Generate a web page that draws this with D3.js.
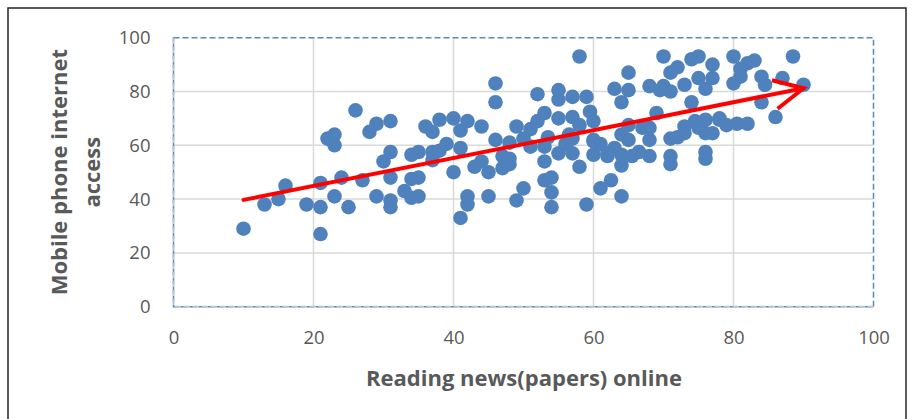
<!DOCTYPE html>
<html>
  <head>
    <meta charset="utf-8" />
    <title>Mobile phone internet access vs reading news online</title>
    <script src="https://d3js.org/d3.v7.min.js"></script>
    <style>
      body {
        margin: 0;
        background: #ffffff;
      }
      text {
        font-family: "Open Sans", "Noto Sans", sans-serif;
      }
    </style>
  </head>
  <body>

    <svg id="scatter">
      <g id="frame"></g>
      <g id="grid"></g>
      <g id="border"></g>
      <g id="shapes"></g>
      <g id="arrow"></g>
      <g id="x"></g>
      <g id="y"></g>
      <g id="titles"></g>
    </svg>

    <script>

      // reading news online (x) and mobile phone internet access (y)
      var readingNews = [
        10, 13, 15, 16, 19, 21, 21, 21, 22, 23, 23, 23, 24, 25, 26, 27, 28, 29, 29, 30,
        31, 31, 31, 31, 31, 33, 34, 35, 34, 35, 34, 35, 36, 37, 37, 37, 38, 38, 39, 40,
        40, 41, 41, 42, 41, 42, 42, 43, 44, 44, 45, 45, 46, 46, 46, 47, 48, 47, 48, 48,
        49, 50, 49, 50, 51, 51, 52, 52, 53, 53, 53, 53.5, 53, 54, 54, 54, 55, 55, 55, 55,
        56, 57, 57, 57, 57, 58, 58, 58, 59, 59.5, 60, 59, 60, 60, 61, 61, 62.5, 62, 63, 64,
        65, 65, 64, 64, 64, 64, 65, 65, 66.5, 67, 68, 68, 68, 69, 70, 70, 71, 71, 71, 71,
        71, 72, 72, 73, 73, 74, 75, 74, 75, 76, 74.5, 75, 76, 76, 76, 77, 77, 77, 78, 79,
        80, 80, 80.5, 81, 82, 83, 81, 84, 84.5, 87, 88.5, 90, 84, 86, 82, 69.5, 68, 63, 65.5, 56.5,
        62, 60, 76, 78, 73
      ];
      var mobileAccess = [
        29, 38, 40, 45, 38, 37, 27, 46, 62.5, 64, 60, 41, 48, 37, 73, 47, 65, 68, 41, 54,
        57.5, 69, 48, 39.5, 37, 43, 56.5, 57.5, 47.5, 48, 40.5, 41, 67, 65, 57.5, 54.5, 69.5, 58, 60.5, 70,
        50, 65.5, 59, 69, 33, 41, 38, 52, 67, 54, 50, 41, 83, 76, 62, 56, 55, 51.5, 53, 61,
        67, 44, 39.5, 62.5, 66, 59.5, 79, 69, 72, 54, 47, 63, 59.5, 48, 42.5, 37, 80.5, 77, 70, 57,
        60.5, 78, 70.5, 62.5, 57, 93, 52, 67.5, 78, 72.5, 69, 38, 61.5, 56.5, 60.5, 44, 47, 57, 81, 76,
        87, 80.5, 64, 56.5, 52.5, 41, 67.5, 62, 57.5, 66.5, 62, 56, 82, 72, 93, 82, 87, 80, 62.5, 56,
        53, 89, 63, 82.5, 67, 92, 93, 76, 85, 81, 69, 66.5, 57.5, 55, 64.5, 90, 85, 64.5, 69.5, 67.5,
        93, 83, 68, 88.5, 90.5, 91.5, 85.5, 85.5, 82.5, 85, 93, 82.5, 76, 70.5, 68, 80.5, 66.5, 59, 56, 64,
        56, 62, 69.5, 70, 64.5
      ];

      // red trend arrow: shaft end points and the open head (wing, tip, wing)
      var arrowShaft = [[10, 39.7], [90, 81.2]];
      var arrowHead = [[85.5, 84.2], [90, 81.2], [86.3, 73.6]];

      var xTicks = [0, 20, 40, 60, 80, 100];
      var yTicks = [0, 20, 40, 60, 80, 100];
      var xTitle = "Reading news(papers) online";
      var yTitle = ["Mobile phone internet", "access"];

      var data = readingNews.map(function(d, i) {
        return { x: d, y: mobileAccess[i] };
      });

      var width = 916;
      var height = 419;
      var margin = {
        top: 37.7,
        right: 42.5,
        bottom: 112.3,
        left: 173.5
      };
      var chartWidth = width - margin.left - margin.right;
      var chartHeight = height - margin.top - margin.bottom;

      var svg = d3.select("#scatter")
        .attr("width", width)
        .attr("height", height);

      var x = d3.scaleLinear()
        .domain([0, 100])
        .range([margin.left, margin.left + chartWidth]);

      var y = d3.scaleLinear()
        .domain([0, 100])
        .range([margin.top + chartHeight, margin.top]);

      // outer chart frame
      svg.select("#frame").append("rect")
        .attr("x", 8)
        .attr("y", 8)
        .attr("width", 898)
        .attr("height", 430)
        .style("fill", "none")
        .style("stroke", "#262626")
        .style("stroke-width", 1.5);

      // gridlines
      var grid = svg.select("#grid");
      grid.selectAll(".vgrid")
        .data(xTicks.slice(1, -1))
        .enter().append("line")
        .attr("class", "vgrid")
        .attr("x1", function(d) { return x(d); })
        .attr("x2", function(d) { return x(d); })
        .attr("y1", y(0))
        .attr("y2", y(100))
        .style("stroke", "#d9d9d9")
        .style("stroke-width", 1.5);

      grid.selectAll(".hgrid")
        .data(yTicks.slice(1, -1))
        .enter().append("line")
        .attr("class", "hgrid")
        .attr("y1", function(d) { return y(d); })
        .attr("y2", function(d) { return y(d); })
        .attr("x1", x(0))
        .attr("x2", x(100))
        .style("stroke", "#d9d9d9")
        .style("stroke-width", 1.5);

      // dashed plot area border (blue top/right, grey axis lines left/bottom)
      var border = svg.select("#border");
      border.append("rect")
        .attr("x", x(0))
        .attr("y", y(100))
        .attr("width", x(100) - x(0))
        .attr("height", y(0) - y(100))
        .style("fill", "none")
        .style("stroke", "#5b87c2")
        .style("stroke-width", 1.5)
        .style("stroke-dasharray", "6,3");

      border.append("path")
        .attr("d", "M" + x(0) + "," + y(100) + "V" + y(0) + "H" + x(100))
        .style("fill", "none")
        .style("stroke", "#b8c2d0")
        .style("stroke-width", 2)
        .style("stroke-dasharray", "6,3");

      // points
      svg.select("#shapes").selectAll(".dot")
        .data(data)
        .enter().append("circle")
        .attr("class", "dot")
        .attr("cx", function(d) { return x(d.x); })
        .attr("cy", function(d) { return y(d.y); })
        .attr("r", 7.3)
        .style("fill", "#4f81bd");

      // arrow
      var line = d3.line()
        .x(function(d) { return x(d[0]); })
        .y(function(d) { return y(d[1]); });

      var arrow = svg.select("#arrow");
      arrow.append("path")
        .attr("d", line(arrowShaft))
        .style("fill", "none")
        .style("stroke", "#ff0000")
        .style("stroke-width", 4)
        .style("stroke-linecap", "round");
      arrow.append("path")
        .attr("d", line(arrowHead))
        .style("fill", "none")
        .style("stroke", "#ff0000")
        .style("stroke-width", 4)
        .style("stroke-linejoin", "miter");

      // axes (labels only)
      var xAxis = d3.axisBottom(x)
        .tickValues(xTicks)
        .tickSize(0)
        .tickPadding(24);
      svg.select("#x")
        .attr("transform", "translate(0, " + y(0) + ")")
        .call(xAxis)
        .call(function(g) { g.select(".domain").remove(); })
        .selectAll("text")
        .style("font-size", "18.5px")
        .style("fill", "#595959");

      var yAxis = d3.axisLeft(y)
        .tickValues(yTicks)
        .tickSize(0)
        .tickPadding(23);
      svg.select("#y")
        .attr("transform", "translate(" + x(0) + ", 0)")
        .call(yAxis)
        .call(function(g) { g.select(".domain").remove(); })
        .selectAll("text")
        .style("font-size", "18.5px")
        .style("fill", "#595959");

      svg.selectAll("#x text, #y text").style("font-family", "'Open Sans', sans-serif");

      // titles
      var titles = svg.select("#titles");
      titles.append("text")
        .attr("x", 524)
        .attr("y", 386)
        .attr("text-anchor", "middle")
        .style("font-size", "22px")
        .style("font-weight", "bold")
        .style("fill", "#595959")
        .text(xTitle);

      titles.selectAll(".ytitle")
        .data(yTitle)
        .enter().append("text")
        .attr("class", "ytitle")
        .attr("text-anchor", "middle")
        .attr("transform", function(d, i) {
          return "translate(" + (67 + i * 33) + "," + ((y(0) + y(100)) / 2) + ") rotate(-90)";
        })
        .style("font-size", "22px")
        .style("font-weight", "bold")
        .style("fill", "#595959")
        .text(function(d) { return d; });

    </script>
  </body>
</html>
